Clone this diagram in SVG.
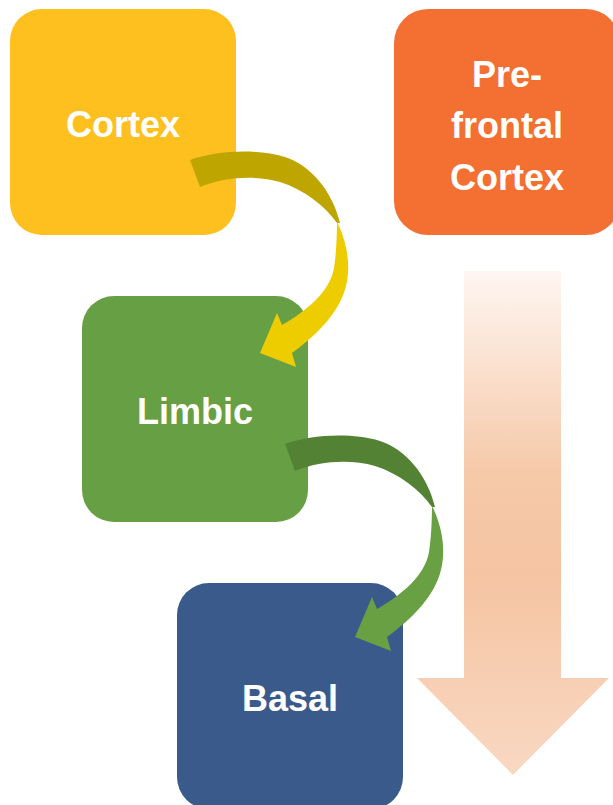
<svg xmlns="http://www.w3.org/2000/svg" width="613" height="805" viewBox="0 0 613 805">
  <style>
    .label { font-family: "Liberation Sans", Arial, sans-serif; font-weight: bold; font-size: 36px; fill: #ffffff; text-anchor: middle; }
  </style>
  <defs>
    <linearGradient id="fade" x1="0" y1="271" x2="0" y2="775" gradientUnits="userSpaceOnUse">
      <stop offset="0" stop-color="#FEF6F1"/>
      <stop offset="0.4" stop-color="#F6C9A9"/>
      <stop offset="0.6" stop-color="#F5C4A2"/>
      <stop offset="1" stop-color="#F9D8C2"/>
    </linearGradient>
    <!-- curved arrow: back band (tail) and front band (with head) -->
    <path id="bend-back" d="M190,160 C215,151 255,148 285,157 C310,165 332,190 340,223 L337,223 C325,206 305,190 280,182 C255,175 225,177 200,187 Z"/>
    <path id="bend-front" d="M337,222 L339,226 C346,242 349,258 348,272 C347,295 335,322 292,353 L296,367 L260,353 L277,313 L282,325 C305,312 330,292 334,268 C336,255 337,238 337,222 Z"/>
  </defs>

  <!-- descending gradient arrow -->
  <g id="gradient-arrow">
    <path d="M464,271 L561,271 L561,678 L609,678 L513,775 L417,678 L464,678 Z" fill="url(#fade)"/>
  </g>

  <g id="cortex">
    <rect x="10" y="9" width="226" height="226" rx="32" fill="#FEC01F"/>
    <text class="label" x="123" y="137">Cortex</text>
  </g>

  <g id="prefrontal">
    <rect x="394" y="9" width="226" height="226" rx="34" fill="#F37032"/>
    <text class="label" x="507" y="87">Pre-</text>
    <text class="label" x="507" y="138">frontal</text>
    <text class="label" x="507" y="190">Cortex</text>
  </g>

  <g id="limbic">
    <rect x="82" y="296" width="226" height="226" rx="32" fill="#67A044"/>
    <text class="label" x="195" y="424">Limbic</text>
  </g>

  <g id="basal">
    <rect x="177" y="583" width="226" height="226" rx="32" fill="#3A5A8B"/>
    <text class="label" x="290" y="711">Basal</text>
  </g>

  <g id="connectors">
    <g id="cortex-to-limbic">
      <use href="#bend-back" fill="#BFA500"/>
      <use href="#bend-front" fill="#EDCD00"/>
    </g>
    <g id="limbic-to-basal" transform="translate(95,284)">
      <use href="#bend-back" fill="#548235"/>
      <use href="#bend-front" fill="#68A043"/>
    </g>
  </g>
</svg>
